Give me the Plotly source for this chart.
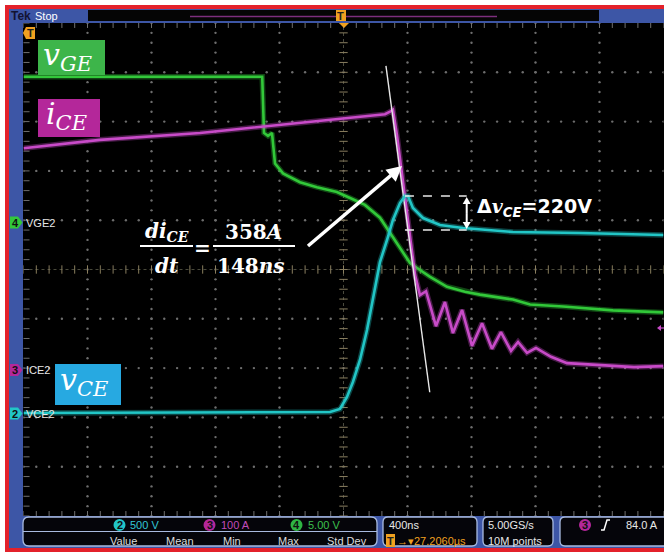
import numpy as np
import plotly.graph_objects as go

W, H = 664, 556

# ---- acquisition settings (per-division scales, channel ground positions in divisions)
NS_PER_DIV = 400
VGE_SCALE, VGE_POS = 5.0, 0.95      # ch4  V/div
ICE_SCALE, ICE_POS = 100.0, -2.04   # ch3  A/div
VCE_SCALE, VCE_POS = 500.0, -2.92   # ch2  V/div

# ---- captured waveforms (time in ns relative to trigger)
vge_t = [-2000, -1200, -508, -497, -472, -447, -428, -378, -272, -166, -41, 41, 134,
         228, 303, 353, 416, 478, 541, 647, 759, 853, 1059, 1166, 1372, 1684, 2000]
vge_v = [14.8, 14.8, 14.8, 9.1, 8.8, 9.1, 6.0, 5.0, 4.1, 3.6, 3.1, 2.5, 1.8,
         0.5, -1.3, -2.5, -4.1, -4.8, -5.5, -6.5, -7.0, -7.3, -7.8, -8.3, -8.5, -8.9, -9.1]

ice_t = [-2000, -1522, -897, -584, -272, 3, 166, 259, 291, 309, 334, 359, 384, 409,
         428, 447, 478, 516, 578, 634, 684, 741, 803, 866, 928, 984, 1047, 1091,
         1147, 1203, 1297, 1397, 1609, 1816, 2000]
ice_a = [450, 467, 481, 491, 501, 511, 515, 519, 524, 528, 477, 416, 355, 294,
         244, 193, 152, 160, 89, 138, 75, 122, 49, 95, 43, 77, 39, 57,
         35, 45, 27, 14, 10, 6, 8]

vce_t = [-2000, -897, -84, -22, 22, 59, 103, 147, 184, 228, 272, 309, 353, 384,
         403, 434, 497, 603, 747, 1059, 1478, 2000]
vce_v = [5, 15, 15, 45, 167, 319, 542, 846, 1150, 1536, 1759, 1962, 2134, 2205,
         2205, 2084, 1982, 1911, 1881, 1840, 1830, 1810]

# ---- measurements
DI_A, DT_NS = 358, 148              # di/dt tangent
TANGENT_T, TANGENT_I = 372, 359     # point where the tangent touches i_CE
TANGENT_I_TOP, TANGENT_I_BOT = 617, -45
DV_LABEL = "220V"
VCE_SETTLED = 1860

# ---- colours
RED = "#e3212b"
BLUE = "#3d56a6"
EDGE = "#a9bbe0"
GREEN_TR, MAG_TR, CYAN_TR = "#33c83a", "#c84bc8", "#22c6c6"
GREEN_BOX, MAG_BOX, CYAN_BOX = "#3db54a", "#b4279a", "#27a9e1"
ORANGE = "#f0a020"
SANS_N = "Liberation Sans Narrow, Liberation Sans, Arial"
SANS = "Liberation Sans"
SERIF = "DejaVu Serif"

# screen geometry of the graticule
GX0, GX1, GY0, GY1 = 23.5, 663.5, 23, 516


def X(px):
    return px / W


def Y(py):
    return 1 - py / H


shapes, annotations = [], []


def rect(x0, y0, x1, y1, fill, line=None, lw=0, layer="below"):
    shapes.append(dict(type="rect", xref="paper", yref="paper", x0=X(x0), x1=X(x1),
                       y0=Y(y1), y1=Y(y0), fillcolor=fill,
                       line=dict(color=line or fill, width=lw), layer=layer))


def poly(pts, fill, line=None, lw=0, closed=True, layer="above"):
    d = "M " + " L ".join(f"{X(a):.5f},{Y(b):.5f}" for a, b in pts) + (" Z" if closed else "")
    shapes.append(dict(type="path", xref="paper", yref="paper", path=d,
                       fillcolor=fill, line=dict(color=line or fill, width=lw), layer=layer))


def rrect(x0, y0, x1, y1, r, fill, line, lw=1.3):
    P = lambda a, b: f"{X(a):.5f},{Y(b):.5f}"
    d = (f"M {P(x0 + r, y0)} L {P(x1 - r, y0)} Q {P(x1, y0)} {P(x1, y0 + r)} "
         f"L {P(x1, y1 - r)} Q {P(x1, y1)} {P(x1 - r, y1)} L {P(x0 + r, y1)} "
         f"Q {P(x0, y1)} {P(x0, y1 - r)} L {P(x0, y0 + r)} Q {P(x0, y0)} {P(x0 + r, y0)} Z")
    shapes.append(dict(type="path", xref="paper", yref="paper", path=d,
                       fillcolor=fill, line=dict(color=line, width=lw), layer="above"))


def seg(x0, y0, x1, y1, color, lw, dash="solid"):
    shapes.append(dict(type="line", xref="paper", yref="paper", x0=X(x0), x1=X(x1),
                       y0=Y(y0), y1=Y(y1), line=dict(color=color, width=lw, dash=dash),
                       layer="above"))


def hline(x0, x1, y, color, lw, dash="solid"):
    seg(x0, y, x1, y, color, lw, dash)


def arrow(tail, tip, lw, head_len, head_half, color="white"):
    """Straight arrow between two screen points, filled triangular head at tip."""
    (x0, y0), (x1, y1) = tail, tip
    dx, dy = x1 - x0, y1 - y0
    n = (dx * dx + dy * dy) ** 0.5
    ux, uy = dx / n, dy / n
    bx, by = x1 - head_len * ux, y1 - head_len * uy
    seg(x0, y0, bx + 0.5 * ux, by + 0.5 * uy, color, lw)
    poly([(x1, y1), (bx - head_half * uy, by + head_half * ux),
          (bx + head_half * uy, by - head_half * ux)], color)


def txt(x, y, s, size, color, family=SANS_N, xanchor="left", yanchor="middle"):
    annotations.append(dict(x=X(x), y=Y(y), xref="paper", yref="paper", text=s,
                            showarrow=False, xanchor=xanchor, yanchor=yanchor,
                            borderpad=0, font=dict(size=size, color=color, family=family)))


def badge(x, y, r, fill, num, color="#111111"):
    shapes.append(dict(type="circle", xref="paper", yref="paper", x0=X(x - r), x1=X(x + r),
                       y0=Y(y + r), y1=Y(y - r), fillcolor=fill, line=dict(width=0),
                       layer="above"))
    txt(x, y, "<b>" + num + "</b>", 11, color, family=SANS, xanchor="center")


# data -> screen helpers for annotation marks tied to the waveforms
def t_px(t):
    return GX0 + (t + 5 * NS_PER_DIV) / (10 * NS_PER_DIV) * (GX1 - GX0)


def vce_px(v):
    div = v / VCE_SCALE + VCE_POS
    return GY0 + (5 - div) / 10 * (GY1 - GY0)


# ---- instrument frame
rect(5, 5, W + 5, 552, RED)
rect(9, 9, W + 5, 548, BLUE)
rect(23, 23, W + 5, 516, "black")

# top status bar
txt(10, 15.5, "<b>Tek</b>", 12, "#121232")
txt(34, 15.5, "Stop", 11, "white")
rect(88, 10, 599, 21, "#050505", layer="above")
hline(190, 497, 16.5, "#7d2f7d", 1.6)
poly([(336, 10), (346, 10), (346, 21), (336, 21)], ORANGE)
txt(341, 15.5, "<b>T</b>", 11, "#202020", family=SANS, xanchor="center")
poly([(339, 23), (349, 23), (344, 28)], ORANGE)

# trigger position / channel markers on the left
poly([(23, 33), (26, 27), (35, 27), (35, 39), (26, 39)], ORANGE)
txt(30, 33, "<b>T</b>", 11, "#202020", family=SANS, xanchor="center")
for yc, col, num, name in [(222.5, GREEN_TR, "4", "VGE2"), (370, MAG_BOX, "3", "ICE2"),
                           (413.5, CYAN_TR, "2", "VCE2")]:
    poly([(10, yc - 6), (18, yc - 6), (22.5, yc), (18, yc + 6), (10, yc + 6)], col)
    txt(15, yc, "<b>" + num + "</b>", 11, "#101010", family=SANS, xanchor="center")
    txt(25, yc, name, 11, "#e6e6e6", family=SANS)

# right-edge offscreen marker for ch3
poly([(657, 328), (661, 325), (661, 331)], MAG_TR)
hline(660, 664, 328, MAG_TR, 1.2)

# ---- bottom readout panels
rrect(23, 517, 377, 546, 6, "#05050a", EDGE)
hline(23, 377, 531.5, EDGE, 1.2)
rrect(383, 517, 477, 546, 5, "#05050a", EDGE)
rrect(483, 517, 553, 546, 5, "#05050a", EDGE)
rrect(560, 517, W + 8, 546, 5, "#05050a", EDGE)

badge(119.5, 525, 6, CYAN_TR, "2")
txt(129, 525, "500 V", 11, "#33c6d6")
badge(209.5, 525, 6, MAG_BOX, "3")
txt(220, 525, "100 A", 11, "#c04bb8")
badge(296.5, 525, 6, "#2fb544", "4")
txt(307, 525, "5.00 V", 11, "#3cc04e")
for x, s in [(109, "Value"), (165, "Mean"), (222, "Min"), (277, "Max"), (326, "Std Dev")]:
    txt(x, 540.5, s, 11, "#dcdcdc")

txt(388, 525, "400ns", 11, "#e8e8e8")
rect(386, 534, 395, 547, ORANGE, layer="above")
txt(390.5, 540.5, "<b>T</b>", 11, "#202020", family=SANS, xanchor="center")
txt(396, 540.5, "→▾27.2060µs", 11, ORANGE)
txt(487, 525, "5.00GS/s", 11, "#e8e8e8")
txt(487, 540.5, "10M points", 11, "#e8e8e8")
badge(585, 525, 6, MAG_BOX, "3")
poly([(601, 530), (604, 530), (607, 520), (610, 520)], "rgba(0,0,0,0)", "white", 1.5,
     closed=False)
txt(625, 525, "84.0 A", 11, "#e8e8e8")

# ---- graticule: dotted divisions, ticked centre cross and frame ticks
fine = np.round(np.arange(-5, 5.001, 0.2), 3)
gx, gy = [], []
for d in range(-4, 5):
    if d == 0:
        continue
    gx += [d] * len(fine)
    gy += list(fine)
    gx += list(fine)
    gy += [d] * len(fine)
grid = [go.Scatter(x=np.array(gx) * NS_PER_DIV, y=gy, mode="markers", hoverinfo="skip",
                   marker=dict(size=2.4, color="#6e6e6e", line=dict(width=0)))]
grid.append(go.Scatter(x=[-5 * NS_PER_DIV, 5 * NS_PER_DIV], y=[0, 0], mode="lines",
                       line=dict(color="#4a4a3e", width=1, dash="dot"), hoverinfo="skip"))
grid.append(go.Scatter(x=[0, 0], y=[-5, 5], mode="lines",
                       line=dict(color="#4a4a3e", width=1, dash="dot"), hoverinfo="skip"))
grid.append(go.Scatter(x=fine * NS_PER_DIV, y=[0] * len(fine), mode="markers",
                       hoverinfo="skip",
                       marker=dict(symbol="line-ns", size=6, line=dict(color="#8a7f60", width=1))))
grid.append(go.Scatter(x=[0] * len(fine), y=fine, mode="markers", hoverinfo="skip",
                       marker=dict(symbol="line-ew", size=6, line=dict(color="#8a7f60", width=1))))
grid.append(go.Scatter(x=list(fine * NS_PER_DIV) * 2, y=[4.97] * len(fine) + [-4.97] * len(fine),
                       mode="markers", hoverinfo="skip",
                       marker=dict(symbol="line-ns", size=5, line=dict(color="#707070", width=1))))
grid.append(go.Scatter(x=[-4.96 * NS_PER_DIV] * len(fine), y=fine, mode="markers",
                       hoverinfo="skip",
                       marker=dict(symbol="line-ew", size=5, line=dict(color="#707070", width=1))))

# ---- waveforms (soft persistence halo under each trace)
traces = []
for t, v, ax, col in [(vge_t, vge_v, "y2", GREEN_TR), (ice_t, ice_a, "y3", MAG_TR),
                      (vce_t, vce_v, "y4", CYAN_TR)]:
    traces.append(go.Scatter(x=t, y=v, yaxis=ax, mode="lines", opacity=0.35,
                             line=dict(color=col, width=5.5), hoverinfo="skip"))
    traces.append(go.Scatter(x=t, y=v, yaxis=ax, mode="lines",
                             line=dict(color=col, width=2.6)))

# di/dt tangent through the falling edge of i_CE
slope = DI_A / DT_NS
t_top = TANGENT_T - (TANGENT_I_TOP - TANGENT_I) / slope
t_bot = TANGENT_T + (TANGENT_I - TANGENT_I_BOT) / slope
traces.append(go.Scatter(x=[t_top, t_bot], y=[TANGENT_I_TOP, TANGENT_I_BOT], yaxis="y3",
                         mode="lines", line=dict(color="#e8e8e8", width=1.4)))

# ---- ΔvCE overshoot markers
vce_peak = max(vce_v)
t_peak = vce_t[vce_v.index(vce_peak)]
t_end = 770
for lvl in (vce_peak, VCE_SETTLED):
    shapes.append(dict(type="line", xref="x", yref="y4", x0=t_peak, x1=t_end, y0=lvl, y1=lvl,
                       line=dict(color="#e8e8e8", width=1.5, dash="dash"), layer="above"))
ya, yb = vce_px(vce_peak), vce_px(VCE_SETTLED)
ym = (ya + yb) / 2
arrow((t_px(t_end), ym), (t_px(t_end), ya + 1), 2, 7, 4)
arrow((t_px(t_end), ym), (t_px(t_end), yb - 1), 2, 7, 4)
txt(476, 207, "<b>Δ<span style='font-family:DejaVu Serif'><i>v</i></span>"
              "<sub><i>CE</i></sub>=" + DV_LABEL + "</b>", 19, "white",
    family="DejaVu Sans")

# ---- di/dt fraction and pointer arrow
txt(166.5, 232, f"<b><i>di</i><sub><i>CE</i></sub></b>", 20, "white", family=SERIF,
    xanchor="center")
txt(167, 266, "<b><i>dt</i></b>", 20, "white", family=SERIF, xanchor="center")
txt(202.5, 248, "<b>=</b>", 20, "white", family=SERIF, xanchor="center")
txt(253, 232, f"<b>{DI_A}<i>A</i></b>", 20, "white", family=SERIF, xanchor="center")
txt(251, 266, f"<b>{DT_NS}<i>ns</i></b>", 20, "white", family=SERIF, xanchor="center")
hline(140, 193, 246, "white", 2)
hline(213, 295, 246, "white", 2)
arrow((308, 246), (402, 166), 3.5, 15, 8)

# ---- trace name labels
rect(38, 40, 105, 75, GREEN_BOX, layer="above")
txt(42, 56, "<i>v</i><sub><i>GE</i></sub>", 30, "white", family=SERIF)
rect(38, 99, 100, 137, MAG_BOX, layer="above")
txt(45, 115, "<i>i</i><sub><i>CE</i></sub>", 30, "white", family=SERIF)
rect(55, 364, 121, 405, CYAN_BOX, layer="above")
txt(59, 381, "<i>v</i><sub><i>CE</i></sub>", 30, "white", family=SERIF)

fig = go.Figure(grid + traces)
fig.update_layout(
    width=W, height=H, margin=dict(l=0, r=0, t=0, b=0), showlegend=False,
    paper_bgcolor="white", plot_bgcolor="black",
    xaxis=dict(range=[-5 * NS_PER_DIV, 5 * NS_PER_DIV], domain=[X(GX0), X(GX1)],
               visible=False, fixedrange=True),
    yaxis=dict(range=[-5, 5], domain=[Y(GY1), Y(GY0)], visible=False, fixedrange=True),
    yaxis2=dict(range=[(-5 - VGE_POS) * VGE_SCALE, (5 - VGE_POS) * VGE_SCALE],
                overlaying="y", visible=False),
    yaxis3=dict(range=[(-5 - ICE_POS) * ICE_SCALE, (5 - ICE_POS) * ICE_SCALE],
                overlaying="y", visible=False),
    yaxis4=dict(range=[(-5 - VCE_POS) * VCE_SCALE, (5 - VCE_POS) * VCE_SCALE],
                overlaying="y", visible=False),
    shapes=shapes, annotations=annotations,
)
fig.write_html("out.html")
